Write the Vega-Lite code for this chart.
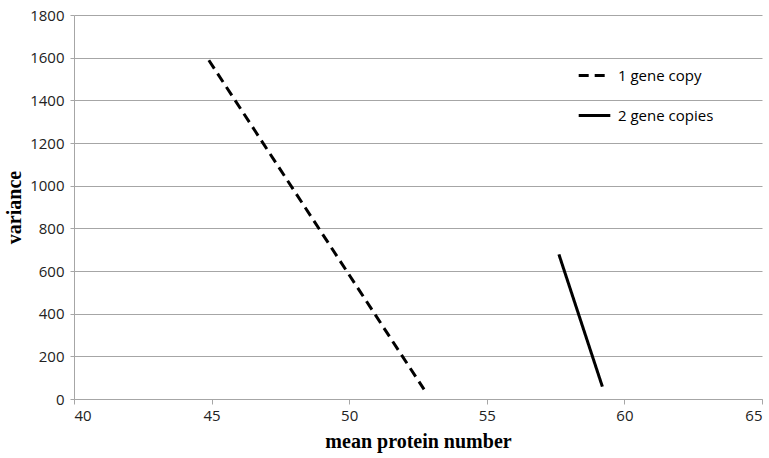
{
  "$schema": "https://vega.github.io/schema/vega-lite/v6.json",
  "width": 688,
  "height": 384,
  "autosize": "none",
  "padding": {"left": 74, "top": 15, "right": 7, "bottom": 59},
  "background": "white",
  "config": {
    "view": {"stroke": null},
    "axis": {
      "labelFont": "Open Sans",
      "labelFontSize": 15,
      "labelColor": "#222222",
      "titleFont": "Liberation Serif",
      "titleFontSize": 20,
      "titleFontWeight": "bold",
      "titleColor": "#000000",
      "domainColor": "#a6a6a6",
      "tickColor": "#a6a6a6",
      "gridColor": "#a6a6a6",
      "tickSize": 5
    }
  },
  "data": {
    "values": [
      {"series": "1 gene copy", "mean": 44.9, "variance": 1588},
      {"series": "1 gene copy", "mean": 52.72, "variance": 45},
      {"series": "2 gene copies", "mean": 57.62, "variance": 678},
      {"series": "2 gene copies", "mean": 59.2, "variance": 58}
    ]
  },
  "mark": {"type": "line", "color": "black", "strokeWidth": 3},
  "encoding": {
    "x": {
      "field": "mean", "type": "quantitative",
      "scale": {"domain": [40, 65], "nice": false, "zero": false},
      "axis": {"values": [40, 45, 50, 55, 60, 65], "format": "d", "grid": false, "title": "mean protein number", "titlePadding": 8, "labelPadding": 4}
    },
    "y": {
      "field": "variance", "type": "quantitative",
      "scale": {"domain": [0, 1800], "nice": false},
      "axis": {"values": [0, 200, 400, 600, 800, 1000, 1200, 1400, 1600, 1800], "format": "d", "grid": true, "title": "variance", "titlePadding": 5, "labelPadding": 6, "tickSize": 4}
    },
    "strokeDash": {
      "field": "series", "type": "nominal",
      "scale": {"domain": ["1 gene copy", "2 gene copies"], "range": [[10, 6], [1, 0]]},
      "legend": {
        "title": null,
        "orient": "none",
        "legendX": 503,
        "legendY": 43,
        "symbolType": "stroke",
        "symbolSize": 1000,
        "symbolStrokeWidth": 3,
        "symbolStrokeColor": "black",
        "labelFont": "Open Sans",
        "labelFontSize": 15,
        "labelColor": "#000000",
        "labelOffset": 6,
        "rowPadding": 14
      }
    },
    "order": {"field": "mean", "type": "quantitative"}
  }
}
